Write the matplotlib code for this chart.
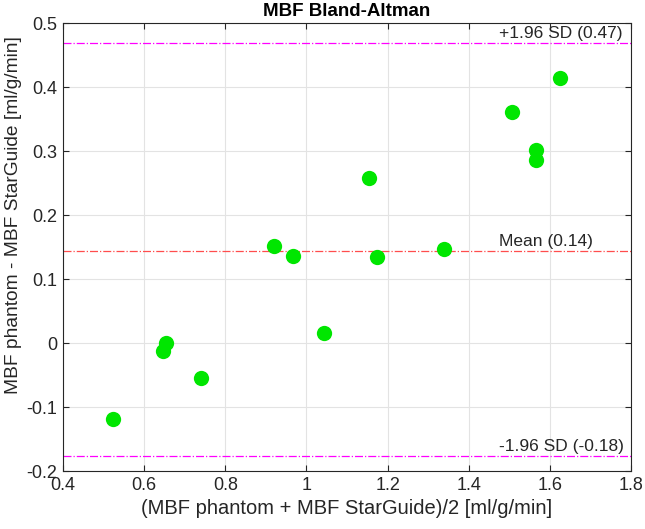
import numpy as np
import matplotlib.pyplot as plt

plt.rcParams['font.family'] = ['Liberation Sans', 'DejaVu Sans']

# Mean of the two methods and their difference [ml/g/min]
avg = [0.524, 0.647, 0.655, 0.740, 0.919, 0.966, 1.043, 1.154, 1.174, 1.338, 1.507, 1.565, 1.565, 1.625]
diff = [-0.118, -0.013, 0.000, -0.055, 0.151, 0.136, 0.015, 0.258, 0.135, 0.147, 0.361, 0.302, 0.286, 0.414]

mean_diff = 0.144
upper_loa = 0.468
lower_loa = -0.176
labels = ['Mean (0.14)', '+1.96 SD (0.47)', '-1.96 SD (-0.18)']

fig = plt.figure(figsize=(6.45, 5.29), dpi=100)
ax = fig.add_axes([0.0977, 0.1096, 0.8806, 0.8469])

ax.plot(avg, diff, 'o', color='#00e600', markersize=11, markeredgewidth=0, zorder=3)

ax.axhline(mean_diff, color='#ff4d4d', linestyle='-.', linewidth=0.9)
ax.axhline(upper_loa, color='#ff00ff', linestyle='-.', linewidth=0.9)
ax.axhline(lower_loa, color='#ff00ff', linestyle='-.', linewidth=0.9)

for yv, lab in zip([mean_diff, upper_loa, lower_loa], labels):
    ax.annotate(lab, (1.475, yv), xytext=(0, 1.5), textcoords='offset points',
                ha='left', va='bottom', fontsize=12.5, color='#262626')

ax.set_xlim(0.4, 1.8)
ax.set_ylim(-0.2, 0.5)
ax.set_xticks(np.arange(0.4, 1.81, 0.2))
ax.set_yticks(np.arange(-0.2, 0.51, 0.1))
ax.set_xticklabels(['0.4', '0.6', '0.8', '1', '1.2', '1.4', '1.6', '1.8'])
ax.set_yticklabels(['-0.2', '-0.1', '0', '0.1', '0.2', '0.3', '0.4', '0.5'])
ax.tick_params(direction='in', top=True, right=True, labelsize=13, colors='#262626',
               length=4, width=0.8, pad=4)
ax.grid(True, color='#e3e3e3', linewidth=0.8)
ax.set_axisbelow(True)
for s in ax.spines.values():
    s.set_color('#262626')
    s.set_linewidth(0.8)

ax.set_title('MBF Bland-Altman', fontsize=13.5, fontweight='bold', pad=5)
ax.set_xlabel('(MBF phantom + MBF StarGuide)/2 [ml/g/min]', fontsize=14.5, color='#262626')
ax.set_ylabel('MBF phantom - MBF StarGuide [ml/g/min]', fontsize=13.8, color='#262626')
ax.yaxis.set_label_coords(-0.072, 0.571)

fig.savefig('out.png', dpi=100)
